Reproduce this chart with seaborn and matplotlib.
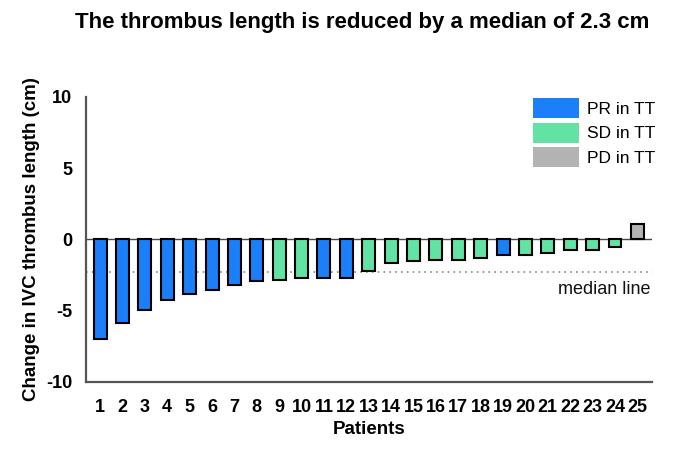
import matplotlib
matplotlib.use("Agg")
import matplotlib.pyplot as plt
import seaborn as sns
import pandas as pd
from matplotlib.patches import Patch

patients = [str(i) for i in range(1, 26)]
changes = [-7.0, -5.85, -4.95, -4.25, -3.82, -3.53, -3.23, -2.94, -2.83, -2.7,
           -2.7, -2.7, -2.2, -1.65, -1.53, -1.46, -1.46, -1.32, -1.1, -1.13,
           -0.94, -0.75, -0.75, -0.52, 1.05]
responses = ["PR", "PR", "PR", "PR", "PR", "PR", "PR", "PR", "SD", "SD",
             "PR", "PR", "SD", "SD", "SD", "SD", "SD", "SD", "PR", "SD",
             "SD", "SD", "SD", "SD", "PD"]
response_labels = {"PR": "PR in TT", "SD": "SD in TT", "PD": "PD in TT"}
colors = {"PR": "#1a7ff8", "SD": "#62e3a4", "PD": "#b3b3b3"}
median_value = -2.3

df = pd.DataFrame({"patient": patients, "change": changes, "response": responses})

sns.set_style("white")
plt.rcParams["font.family"] = ["Liberation Sans", "DejaVu Sans"]
plt.rcParams["text.color"] = "black"
plt.rcParams["axes.labelcolor"] = "black"
plt.rcParams["xtick.color"] = "black"
plt.rcParams["ytick.color"] = "black"

fig = plt.figure(figsize=(6.85, 4.61), dpi=100)
ax = fig.add_axes([0.1255, 0.1714, 0.8259, 0.6188])

sns.barplot(data=df, x="patient", y="change", hue="response", order=patients,
            hue_order=["PR", "SD", "PD"], palette=colors, dodge=False, saturation=1,
            width=0.58, edgecolor="black", linewidth=1.5, legend=False, ax=ax,
            zorder=3)

ax.axhline(0, color="#444444", lw=1.0, zorder=2)
ax.axhline(median_value, color="#888888", lw=1.2, ls=(0, (1, 2.5)), zorder=2)
ax.text(0.9975, -3.5, "median line", transform=ax.get_yaxis_transform(),
        ha="right", va="center", fontsize=13, color="#111111")

ax.set_ylim(-10, 10)
ax.set_xlim(-0.63, 24.64)
ax.set_yticks([-10, -5, 0, 5, 10])
ax.set_yticklabels(["-10", "-5", "0", "5", "10"])

for side in ["top", "right"]:
    ax.spines[side].set_visible(False)
for side in ["left", "bottom"]:
    ax.spines[side].set_color("#555555")
    ax.spines[side].set_linewidth(1.6)

ax.tick_params(axis="both", direction="out", length=7, width=1.5, color="#555555",
               labelcolor="black", labelsize=13, pad=3)
ax.tick_params(axis="x", pad=5)
for lab in ax.get_xticklabels() + ax.get_yticklabels():
    lab.set_fontweight("bold")

ax.set_xlabel("Patients", fontsize=13.5, fontweight="bold", labelpad=4)
ax.set_ylabel("Change in IVC thrombus length (cm)", fontsize=13.5, fontweight="bold", labelpad=4)

fig.suptitle("The thrombus length is reduced by a median of 2.3 cm", x=0.529, y=0.975,
             fontsize=16, fontweight="bold")

handles = [Patch(facecolor=colors[k], edgecolor="none", label=response_labels[k])
           for k in ["PR", "SD", "PD"]]
ax.legend(handles=handles, loc="upper right", bbox_to_anchor=(1.006, 0.995), frameon=False,
          fontsize=12.5, handlelength=2.65, handleheight=1.4, labelspacing=0.25,
          handletextpad=0.45, borderpad=0, borderaxespad=0)

fig.savefig("out.png", dpi=100)
